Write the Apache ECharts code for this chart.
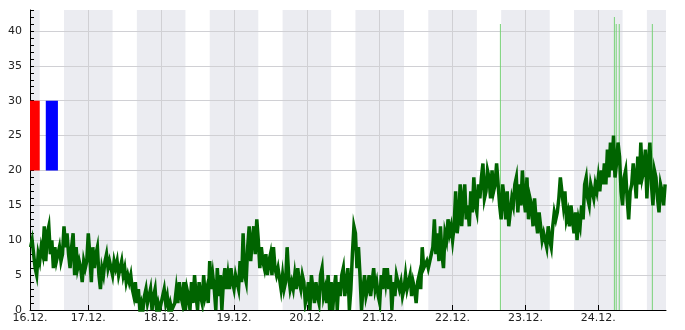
<!DOCTYPE html>
<html><head><meta charset="utf-8">
<script src="https://cdn.jsdelivr.net/npm/echarts@6/dist/echarts.min.js"></script>
<style>html,body{margin:0;padding:0;background:#fff}#c{width:685px;height:330px}</style>
</head><body><div id="c"></div>
<script>
const startHour = 5;
const stepHours = 0.5;
const axisMinHour = 4.8;
const axisMaxHour = 214.3;
const yMin = 0;
const yMax = 43;
const dayTicks = [24, 48, 72, 96, 120, 144, 168, 192];
const labelValues = [4.8, 24, 48, 72, 96, 120, 144, 168, 192];
const nightBands = [[-8, 8], [16, 32], [40, 56], [64, 80], [88, 104], [112, 128], [136, 152], [160, 176], [184, 200], [208, 224]];
const testBands = [[4.8, 8], [10, 14]];

const day16 = [9,10,8,6,5,8,7,9,8,12,7,11,12,8,10,6,9,7,8,9,7,8,12,9,11,8,6,9,11,5,9,6,7,6,4,7,6,7];
const day17 = [11,8,4,9,6,8,9,5,3,6,5,7,8,6,7,6,5,7,6,7,5,6,7,5,6,4,5,4,5,3,2,4,1,3,0,1,0,2,3,1,2,3,0,2,3,0,1,0];
const day18 = [0,2,3,1,2,0,1,0,0,1,3,1,4,2,1,4,0,3,2,0,4,1,5,2,0,4,2,1,5,2,3,1,7,3,5,3,0,6,2,5,0,4,6,3,5,3,6,4];
const day19 = [3,5,4,3,7,4,11,5,4,9,12,7,10,12,8,13,10,6,9,7,6,8,5,7,8,5,9,6,5,6,6,3,5,3,4,9,5,3,4,3,5,3,6,4,3,5,4,1];
const day20 = [2,4,0,5,3,1,4,2,1,5,6,2,3,1,5,0,4,0,3,5,0,4,2,5,6,2,4,6,0,3,8,12,11,6,9,5,0,3,5,2,3,5,2,4,6,3,4,2];
const day21 = [1,5,3,6,4,6,3,5,0,4,2,5,5,3,4,2,3,5,3,4,5,2,4,3,1,4,5,3,9,6,6,7,6,7,7,9,13,8,11,7,12,8,6,11,10,13,11,12];
const day22 = [10,12,17,11,13,18,12,16,18,13,15,12,17,14,19,15,14,18,16,19,21,16,17,20,19,16,20,17,18,21,21,15,13,18,16,13,17,12,14,16,15,18,19,14,18,15,20,16];
const day23 = [14,19,13,16,15,12,16,13,11,14,12,10,11,10,9,12,10,9,12,14,13,14,16,19,19,15,17,13,14,12,15,13,11,14,10,13,12,15,13,18,19,16,15,18,17,16,18,17];
const day24 = [19,17,20,18,21,18,23,19,24,20,25,19,21,24,22,17,15,19,20,16,13,17,18,21,19,16,22,18,24,19,20,23,16,21,24,18,15,20,19,16,14,18,17,15,18];

const spikeHours = [159.75, 197.3, 197.9, 198.9, 209.8];
const spikeValues = [41, 42, 41, 41, 41];

const values = [].concat(day16, day17, day18, day19, day20, day21, day22, day23, day24);
const mainData = values.map((v, i) => [startHour + i * stepHours, v]);
const spikeData = spikeHours.map((h, i) => [h, spikeValues[i]]);

const gridColor = '#d0d0d4';
const bandColor = '#ebecf1';
const yColors = [];
for (let v = yMin; v <= yMax; v++) yColors.push(v % 5 === 0 && v <= 40 ? gridColor : 'rgba(0,0,0,0)');

const chart = echarts.init(document.getElementById('c'), null, {renderer: 'canvas'});
chart.setOption({
  animation: false,
  grid: {left: 30, right: 19, top: 10, bottom: 20, containLabel: false},
  xAxis: {
    type: 'value', min: axisMinHour, max: axisMaxHour, z: 1,
    axisLine: {show: true, onZero: false, lineStyle: {color: '#000', width: 1}},
    axisTick: {show: true, inside: true, length: 5, customValues: dayTicks, lineStyle: {color: '#000'}},
    axisLabel: {
      customValues: labelValues, margin: 3, color: '#222', fontSize: 11, fontFamily: 'DejaVu Sans',
      formatter: v => (16 + Math.floor(v / 24 + 1e-9)) + '.12.'
    },
    splitLine: {show: false}
  },
  yAxis: {
    type: 'value', min: yMin, max: yMax, interval: 1, z: 1,
    axisLine: {show: true, lineStyle: {color: '#000', width: 1}},
    axisTick: {show: true, inside: true, length: 4, lineStyle: {color: '#000'}},
    axisLabel: {color: '#222', fontSize: 11, fontFamily: 'DejaVu Sans', margin: 8,
      formatter: v => (v % 5 === 0 && v <= 40) ? String(v) : ''},
    splitLine: {show: true, lineStyle: {color: yColors, width: 1}}
  },
  series: [
    {
      type: 'custom', z: 0, silent: true, clip: false,
      data: nightBands,
      encode: {x: [0, 1]},
      renderItem: (params, api) => {
        const p0 = api.coord([api.value(0), yMax]);
        const p1 = api.coord([api.value(1), yMin]);
        const cs = params.coordSys;
        const rect = echarts.graphic.clipRectByRect(
          {x: p0[0], y: p0[1], width: p1[0] - p0[0], height: p1[1] - p0[1]},
          {x: cs.x, y: cs.y, width: cs.width, height: cs.height});
        return rect ? {type: 'rect', shape: rect, style: {fill: bandColor}} : null;
      }
    },
    {
      type: 'custom', z: 5, silent: true, clip: false,
      data: testBands,
      encode: {x: [0, 1]},
      renderItem: (params, api) => {
        const p0 = api.coord([api.value(0), 30]);
        const p1 = api.coord([api.value(1), 20]);
        return {type: 'rect', shape: {x: p0[0], y: p0[1], width: p1[0] - p0[0], height: p1[1] - p0[1]},
          style: {fill: params.dataIndex === 0 ? 'red' : 'blue'}};
      }
    },
    {
      type: 'line', data: [], z: 1, silent: true, symbol: 'none',
      markLine: {
        silent: true, z: 1, symbol: 'none', label: {show: false},
        lineStyle: {color: gridColor, width: 1, type: 'solid'},
        data: dayTicks.map(d => ({xAxis: d}))
      }
    },
    {
      type: 'bar', data: spikeData, barWidth: 1, z: 2, silent: true,
      itemStyle: {color: '#78d278'}
    },
    {
      type: 'line', data: mainData, showSymbol: false, symbol: 'none', z: 3,
      lineStyle: {color: '#006400', width: 3.5, join: 'miter'},
      itemStyle: {color: '#006400'}
    }
  ]
});
</script>
</body></html>
